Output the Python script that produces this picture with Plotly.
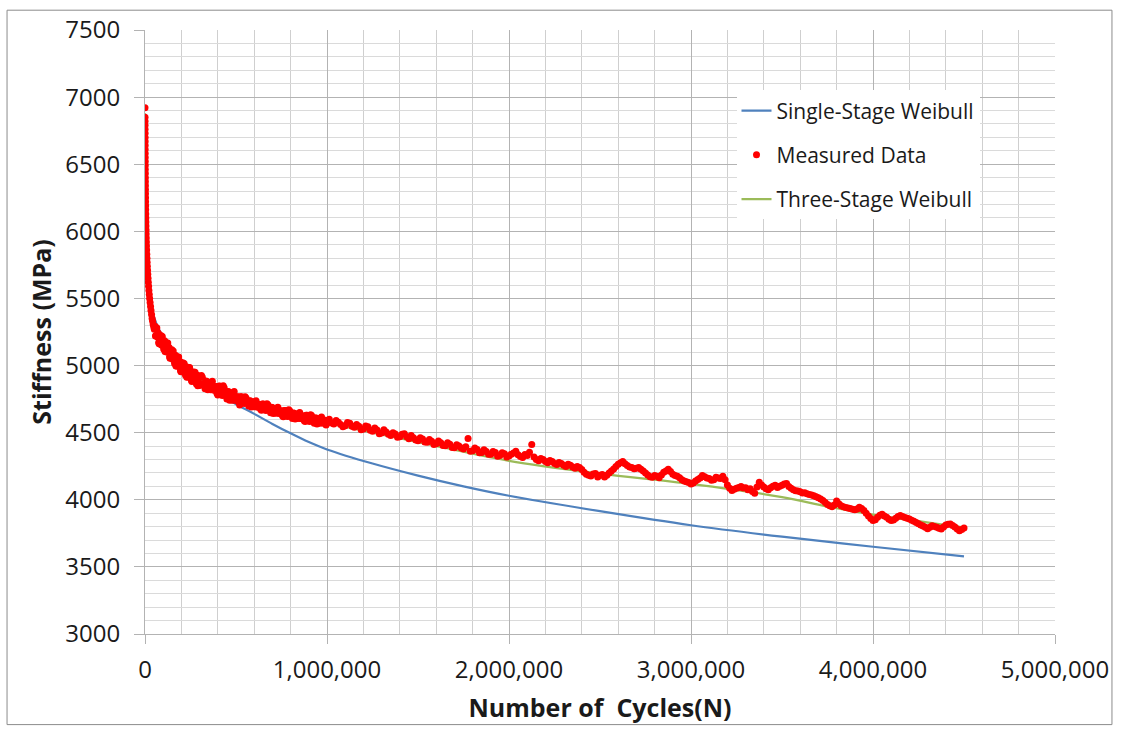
import plotly.graph_objects as go

# ---- Measured stiffness data (cycles, MPa) ----
# Initial rapid-decay phase
cycles_early = [0, 100, 200, 300, 400, 500, 600, 700, 800, 900, 1000, 1150, 1300, 1450,
                1600, 1750, 1900, 2100, 2300, 2500, 2700, 2900, 3200, 3500, 3800, 4100,
                4500, 4900, 5300, 5800, 6300, 6900, 7500, 8200, 9000, 9800, 10700, 11700,
                12800, 14000, 15300, 16700, 18200, 19800, 21500, 23500, 25500, 28000,
                30500, 33000, 36000, 39000, 42000, 45000, 48000, 51000]
stiff_early = [6920, 6850, 6820, 6790, 6760, 6730, 6700, 6670, 6640, 6610, 6580, 6550, 6520, 6490,
               6460, 6430, 6400, 6370, 6340, 6310, 6280, 6250, 6220, 6190, 6160, 6130,
               6100, 6070, 6040, 6010, 5980, 5950, 5920, 5890, 5860, 5830, 5800, 5770,
               5740, 5710, 5680, 5650, 5620, 5590, 5560, 5530, 5500, 5470,
               5440, 5410, 5380, 5350, 5330, 5305, 5290, 5270]

# Transition phase (thousands of cycles)
cycles_mid_k = [55, 60, 65, 70, 75, 80, 85, 90, 95, 100, 105, 110, 115, 120, 125, 130, 135,
                140, 145, 150, 155, 160, 165, 170, 175, 180, 185, 190, 195, 200, 205, 210,
                215, 220, 225, 230, 235, 240, 245, 250, 255, 260, 265, 270, 275, 280, 285,
                290, 295, 300, 310, 320, 330, 340, 350, 360, 370, 380, 390, 400, 410, 420,
                430, 440, 450, 460, 470, 480, 490, 500, 510, 520, 530, 540, 550, 560, 570,
                580, 590, 600, 610, 620, 630, 640, 650, 660, 670, 680, 690, 700, 710, 720,
                730, 740, 750, 760, 770, 780, 790, 800, 810, 820, 830, 840, 850, 860, 870,
                880, 890, 900, 910, 920, 930, 940, 950, 960, 970, 980, 990]
stiff_mid = [5292, 5223, 5280, 5213, 5172, 5222, 5198, 5154, 5216, 5148, 5169, 5105,
             5171, 5107, 5168, 5104, 5065, 5116, 5092, 5048, 5109, 5040, 5061, 4997,
             5064, 5001, 5063, 5000, 4963, 5016, 4994, 4952, 5016, 4950, 4974, 4913,
             4982, 4921, 4985, 4925, 4890, 4945, 4925, 4885, 4950, 4885, 4910, 4850,
             4920, 4861, 4925, 4864, 4828, 4882, 4861, 4820, 4883, 4817, 4841, 4780,
             4848, 4786, 4849, 4787, 4750, 4804, 4783, 4742, 4806, 4742, 4767, 4707,
             4767, 4724, 4767, 4724, 4699, 4736, 4721, 4693, 4737, 4691, 4709, 4667,
             4713, 4671, 4715, 4673, 4649, 4687, 4673, 4645, 4689, 4643, 4661, 4619,
             4666, 4625, 4670, 4629, 4606, 4645, 4632, 4605, 4650, 4605, 4624, 4583,
             4630, 4589, 4634, 4593, 4570, 4609, 4596, 4570, 4616, 4572, 4592]

# Intermediate readings of the transition phase (thousands of cycles)
cycles_mid2_k = [57.5, 62.5, 67.5, 72.5, 77.5, 82.5, 87.5, 92.5, 97.5, 102.5, 107.5, 112.5,
                 117.5, 122.5, 127.5, 132.5, 137.5, 142.5, 147.5, 152.5, 157.5, 162.5,
                 167.5, 172.5, 177.5, 182.5, 187.5, 192.5, 197.5, 202.5, 207.5, 212.5,
                 217.5, 222.5, 227.5, 232.5, 237.5, 242.5, 247.5, 252.5, 257.5, 262.5,
                 267.5, 272.5, 277.5, 282.5, 287.5, 292.5, 297.5,
                 305, 315, 325, 335, 345, 355, 365, 375, 385, 395, 405, 415, 425, 435,
                 445, 455, 465, 475, 485, 495, 505, 515, 525, 535, 545, 555, 565, 575,
                 585, 595, 605, 615, 625, 635, 645, 655, 665, 675, 685, 695, 705, 715,
                 725, 735, 745, 755, 765, 775, 785, 795, 805, 815, 825, 835, 845, 855,
                 865, 875, 885, 895, 905, 915, 925, 935, 945, 955, 965, 975, 985, 995]
stiff_mid2 = [5220, 5281, 5214, 5242, 5162, 5207, 5223, 5155, 5187, 5123, 5184, 5140,
              5101, 5167, 5103, 5134, 5055, 5101, 5117, 5048, 5079, 5015,
              5076, 5033, 4995, 5062, 4999, 5031, 4954, 5002, 5020, 4954,
              4988, 4927, 4991, 4950, 4914, 4983, 4922, 4957, 4882, 4932,
              4952, 4887, 4922, 4862, 4927, 4887, 4853,
              4853, 4912, 4861, 4885, 4819, 4861, 4876, 4818, 4846, 4793, 4846, 4810, 4777, 4835,
              4783, 4807, 4741, 4783, 4799, 4742, 4767, 4729, 4767, 4741, 4718, 4759, 4722, 4738,
              4691, 4721, 4732, 4692, 4711, 4674, 4713, 4688, 4666, 4708, 4672, 4689, 4643, 4673,
              4684, 4644, 4663, 4626, 4665, 4641, 4620, 4663, 4628, 4646, 4601, 4632, 4644, 4605,
              4625, 4589, 4629, 4605, 4584, 4627, 4592, 4610, 4565, 4597, 4610, 4572, 4593, 4558]

# Long-term phase (thousands of cycles)
cycles_late_k = [1000, 1025, 1050, 1075, 1100, 1125, 1150, 1175, 1200, 1225, 1250, 1275,
                 1300, 1325, 1350, 1375, 1400, 1425, 1450, 1475, 1500, 1525, 1550, 1575,
                 1600, 1625, 1650, 1675, 1700, 1725, 1750, 1775, 1800, 1825, 1850, 1875,
                 1900, 1925, 1950, 1975, 2000, 2025, 2050, 2075, 2100, 2125, 2150, 2175,
                 2200, 2225, 2250, 2275, 2300, 2325, 2350, 2375, 2400, 2425, 2450, 2475,
                 2500, 2525, 2550, 2575, 2600, 2625, 2650, 2675, 2700, 2725, 2750, 2775,
                 2800, 2825, 2850, 2875, 2900, 2925, 2950, 2975, 3000, 3025, 3050, 3075,
                 3100, 3125, 3150, 3175, 3200, 3225, 3250, 3275, 3300, 3325, 3350, 3375,
                 3400, 3425, 3450, 3475, 3500, 3525, 3550, 3575, 3600, 3625, 3650, 3675,
                 3700, 3725, 3750, 3775, 3800, 3825, 3850, 3875, 3900, 3925, 3950, 3975,
                 4000, 4025, 4050, 4075, 4100, 4125, 4150, 4175, 4200, 4225, 4250, 4275,
                 4300, 4325, 4350, 4375, 4400, 4425, 4450, 4475, 4500]
stiff_late = [4585, 4572, 4590, 4560, 4552, 4571, 4540, 4548, 4528, 4545, 4510, 4520,
              4498, 4505, 4478, 4490, 4470, 4492, 4455, 4462, 4440, 4452, 4428, 4436,
              4418, 4425, 4402, 4414, 4388, 4400, 4378, 4456, 4366, 4375, 4352, 4360,
              4340, 4352, 4330, 4342, 4326, 4348, 4335, 4315, 4330, 4412, 4300, 4308,
              4285, 4293, 4270, 4278, 4258, 4265, 4245, 4248, 4225, 4190, 4178, 4195,
              4182, 4170, 4200, 4230, 4265, 4285, 4255, 4240, 4235, 4228, 4200, 4172,
              4180, 4165, 4205, 4228, 4190, 4175, 4150, 4135, 4118, 4140, 4162, 4172,
              4158, 4150, 4162, 4175, 4110, 4070, 4085, 4098, 4090, 4082, 4048, 4130,
              4095, 4075, 4100, 4092, 4108, 4122, 4085, 4068, 4060, 4052, 4040, 4030,
              4015, 3995, 3965, 3948, 3990, 3955, 3942, 3935, 3925, 3945, 3920, 3880,
              3845, 3870, 3892, 3870, 3845, 3862, 3882, 3868, 3856, 3840, 3822, 3805,
              3785, 3806, 3795, 3782, 3812, 3820, 3798, 3770, 3790]

# Intermediate readings of the long-term phase (thousands of cycles)
cycles_late2_k = [1012.5, 1037.5, 1062.5, 1087.5, 1112.5, 1137.5, 1162.5, 1187.5, 1212.5,
                  1237.5, 1262.5, 1287.5, 1312.5, 1337.5, 1362.5, 1387.5, 1412.5, 1437.5,
                  1462.5, 1487.5, 1512.5, 1537.5, 1562.5, 1587.5, 1612.5, 1637.5, 1662.5,
                  1687.5, 1712.5, 1737.5, 1762.5, 1787.5, 1812.5, 1837.5, 1862.5, 1887.5,
                  1912.5, 1937.5, 1962.5, 1987.5, 2012.5, 2037.5, 2062.5, 2087.5, 2112.5,
                  2137.5, 2162.5, 2187.5, 2212.5, 2237.5, 2262.5, 2287.5, 2312.5, 2337.5,
                  2362.5, 2387.5, 2412.5, 2437.5, 2462.5, 2487.5, 2512.5, 2537.5, 2562.5,
                  2587.5, 2612.5, 2637.5, 2662.5, 2687.5, 2712.5, 2737.5, 2762.5, 2787.5,
                  2812.5, 2837.5, 2862.5, 2887.5, 2912.5, 2937.5, 2962.5, 2987.5, 3012.5,
                  3037.5, 3062.5, 3087.5, 3112.5, 3137.5, 3162.5, 3187.5, 3212.5, 3237.5,
                  3262.5, 3287.5, 3312.5, 3337.5, 3362.5, 3387.5, 3412.5, 3437.5, 3462.5,
                  3487.5, 3512.5, 3537.5, 3562.5, 3587.5, 3612.5, 3637.5, 3662.5, 3687.5,
                  3712.5, 3737.5, 3762.5, 3787.5, 3812.5, 3837.5, 3862.5, 3887.5, 3912.5,
                  3937.5, 3962.5, 3987.5, 4012.5, 4037.5, 4062.5, 4087.5, 4112.5, 4137.5,
                  4162.5, 4187.5, 4212.5, 4237.5, 4262.5, 4287.5, 4312.5, 4337.5, 4362.5,
                  4387.5, 4412.5, 4437.5, 4462.5, 4487.5]
stiff_late2 = [4600, 4565, 4578, 4545, 4575, 4548, 4560, 4522, 4550,
               4518, 4535, 4492, 4522, 4488, 4500, 4465, 4488, 4470,
               4478, 4445, 4462, 4430, 4450, 4412, 4438, 4405, 4425,
               4390, 4410, 4385, 4395, 4362, 4385, 4350, 4372, 4340,
               4360, 4325, 4350, 4318, 4340, 4362, 4322, 4338, 4355,
               4318, 4290, 4300, 4275, 4285, 4262, 4270, 4248, 4258,
               4235, 4240, 4205, 4182, 4192, 4170, 4188, 4182, 4215,
               4248, 4275, 4268, 4245, 4232, 4240, 4215, 4185, 4168,
               4175, 4185, 4215, 4210, 4180, 4165, 4140, 4128, 4125,
               4152, 4180, 4162, 4145, 4168, 4158, 4150, 4085, 4078,
               4092, 4088, 4075, 4062, 4095, 4110, 4082, 4090, 4108,
               4100, 4118, 4098, 4075, 4065, 4050, 4045, 4035, 4022,
               4005, 3980, 3955, 3962, 3970, 3948, 3938, 3930, 3932,
               3935, 3900, 3860, 3852, 3885, 3880, 3855, 3850, 3875,
               3875, 3862, 3848, 3830, 3812, 3795, 3795, 3800, 3788,
               3798, 3818, 3808, 3782, 3778]

# ---- Model curves ----
single_cycles = [0, 1000, 2500, 5000, 10000, 20000, 35000, 50000, 75000, 100000, 150000,
                 200000, 300000, 400000, 500000, 600000, 700000, 800000, 900000, 1000000,
                 1250000, 1500000, 1750000, 2000000, 2500000, 3000000, 3500000, 4000000,
                 4500000]
single_stiff = [6850, 6450, 6200, 5980, 5770, 5580, 5440, 5360, 5275, 5215, 5110,
                5020, 4890, 4790, 4712, 4640, 4565, 4495, 4430, 4375,
                4270, 4180, 4100, 4030, 3915, 3810, 3725, 3650, 3578]

three_cycles = [0, 1000, 2500, 5000, 10000, 20000, 35000, 55000, 100000, 150000, 200000,
                300000, 400000, 500000, 700000, 1000000, 1500000, 2000000, 2500000,
                3000000, 3500000, 3750000, 4000000, 4500000]
three_stiff = [6880, 6500, 6230, 6000, 5780, 5570, 5420, 5290, 5170, 5075, 5005,
               4900, 4830, 4770, 4680, 4575, 4430, 4290, 4195,
               4118, 4020, 3950, 3890, 3795]

# Axis tick values / labels
x_ticks = [0, 1000000, 2000000, 3000000, 4000000, 5000000]
x_tick_text = ["0", "1,000,000", "2,000,000", "3,000,000", "4,000,000", "5,000,000"]
y_ticks = [3000, 3500, 4000, 4500, 5000, 5500, 6000, 6500, 7000, 7500]

measured_x = (cycles_early
              + [k * 1000 for k in cycles_mid_k]
              + [k * 1000 for k in cycles_mid2_k]
              + [k * 1000 for k in cycles_late_k]
              + [k * 1000 for k in cycles_late2_k])
measured_y = stiff_early + stiff_mid + stiff_mid2 + stiff_late + stiff_late2

FONT = "Open Sans"
TEXT = "#1a1a1a"
MAJOR = "#b3b3b3"
XMINOR = "#cfcfcf"
YMINOR = "#dadada"

fig = go.Figure()

fig.add_trace(go.Scatter(
    x=single_cycles, y=single_stiff, mode="lines", name="Single-Stage Weibull",
    line=dict(color="#4f81bd", width=2.2, shape="spline"),
    legendrank=1, legendgroup="a",
))
fig.add_trace(go.Scatter(
    x=three_cycles, y=three_stiff, mode="lines", name="Three-Stage Weibull",
    line=dict(color="#9bbb59", width=2.2, shape="spline"),
    legendrank=3, legendgroup="c",
))
fig.add_trace(go.Scatter(
    x=measured_x, y=measured_y, mode="markers", name="Measured Data",
    marker=dict(color="#ff0000", size=7, line=dict(width=0)),
    legendrank=2, legendgroup="b",
))

# Outer chart frame
fig.add_shape(type="rect", xref="paper", yref="paper",
              x0=-0.1516, x1=1.0626, y0=-0.150, y1=1.0328,
              line=dict(color="#8c8c8c", width=1), fillcolor="rgba(0,0,0,0)", layer="below")

fig.update_layout(
    width=1122, height=729,
    margin=dict(l=145, r=67, t=25, b=94),
    paper_bgcolor="white", plot_bgcolor="white",
    font=dict(family=FONT, color=TEXT),
    showlegend=True,
    legend=dict(
        x=0.65, y=0.90, xanchor="left", yanchor="top",
        bgcolor="white", borderwidth=0,
        font=dict(family=FONT, size=21, color=TEXT),
        tracegroupgap=14, traceorder="grouped",
    ),
    xaxis=dict(
        range=[0, 5000000], tickvals=x_ticks, ticktext=x_tick_text,
        showgrid=True, gridcolor=MAJOR, gridwidth=1,
        showline=True, linecolor=MAJOR, linewidth=1,
        ticks="outside", ticklen=9, tickcolor=MAJOR,
        tickfont=dict(family=FONT, size=24, color=TEXT),
        ticklabelstandoff=5,
        zeroline=False,
        minor=dict(dtick=200000, showgrid=True, gridcolor=XMINOR, gridwidth=1, ticks=""),
        title=dict(text="Number of\u00a0 Cycles(N)", standoff=15,
                   font=dict(family=FONT, size=25, color=TEXT, weight="bold")),
    ),
    yaxis=dict(
        range=[3000, 7500], tickvals=y_ticks,
        showgrid=True, gridcolor=MAJOR, gridwidth=1,
        showline=True, linecolor=MAJOR, linewidth=1,
        ticks="outside", ticklen=10, tickcolor=MAJOR,
        tickfont=dict(family=FONT, size=24, color=TEXT),
        ticklabelstandoff=9,
        zeroline=False,
        minor=dict(dtick=100, showgrid=True, gridcolor=YMINOR, gridwidth=1, ticks=""),
        title=dict(text="Stiffness (MPa)", standoff=6,
                   font=dict(family=FONT, size=25, color=TEXT, weight="bold")),
    ),
)

fig.write_html("out.html")
